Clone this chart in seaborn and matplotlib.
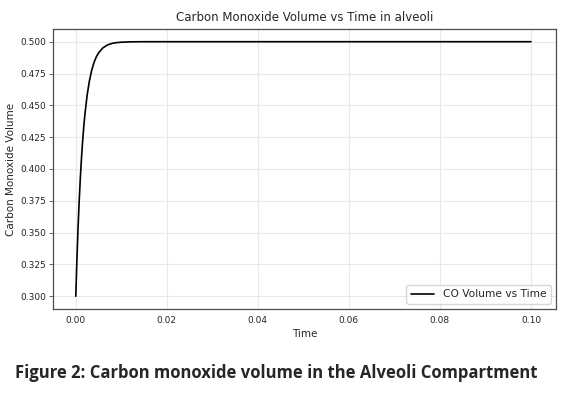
import matplotlib
matplotlib.use("Agg")
import matplotlib.pyplot as plt
import seaborn as sns
import pandas as pd

time = [0.0, 0.00025, 0.0005, 0.00075, 0.001, 0.00125, 0.0015, 0.00175, 0.002,
        0.0025, 0.003, 0.0035, 0.004, 0.0045, 0.005, 0.006, 0.007, 0.008, 0.009,
        0.010, 0.012, 0.015, 0.02, 0.03, 0.04, 0.05, 0.06, 0.07, 0.08, 0.09, 0.10]
co_volume = [0.300, 0.3289, 0.3537, 0.3748, 0.3929, 0.4084, 0.4217, 0.4330, 0.4427,
             0.4581, 0.4693, 0.4776, 0.4836, 0.4880, 0.4912, 0.4953, 0.4975, 0.4987, 0.4993,
             0.4996, 0.4999, 0.5, 0.5, 0.5, 0.5, 0.5, 0.5, 0.5, 0.5, 0.5, 0.5]
xticks = [0.00, 0.02, 0.04, 0.06, 0.08, 0.10]
yticks = [0.300, 0.325, 0.350, 0.375, 0.400, 0.425, 0.450, 0.475, 0.500]

df = pd.DataFrame({"Time": time, "CO": co_volume})

sns.set_style("whitegrid", {"axes.edgecolor": "0.3", "grid.color": "0.91",
                            "xtick.bottom": False, "ytick.left": True})
plt.rcParams["font.family"] = ["DejaVu Sans"]

fig = plt.figure(figsize=(5.64, 3.97), dpi=100)
ax = fig.add_axes([0.094, 0.2217, 0.8918, 0.7053])
sns.lineplot(data=df, x="Time", y="CO", ax=ax, color="black", linewidth=1.2,
             label="CO Volume vs Time")
ax.set_xticks(xticks)
ax.set_yticks(yticks)
ax.set_xticklabels([f"{v:.2f}" for v in xticks])
ax.set_yticklabels([f"{v:.3f}" for v in yticks])
ax.tick_params(axis="y", labelsize=6.5, length=3, width=0.6, color="0.3", pad=2)
ax.tick_params(axis="x", labelsize=6.5, length=0, pad=5)
ax.set_xlim(-0.005, 0.1055)
ax.set_ylim(0.290, 0.510)
ax.set_xlabel("Time", fontsize=7.5, labelpad=3)
ax.set_ylabel("Carbon Monoxide Volume", fontsize=7.5, labelpad=3)
ax.set_title("Carbon Monoxide Volume vs Time in alveoli", fontsize=8.5, pad=6)
for s in ax.spines.values():
    s.set_linewidth(0.9)
ax.legend(loc="lower right", fontsize=7.7, frameon=True, edgecolor="0.8",
          fancybox=True, handlelength=2.2)

fig.text(0.490, 0.06, "Figure 2: Carbon monoxide volume in the Alveoli Compartment",
         ha="center", va="center", fontsize=12.0, fontweight="bold",
         family=["Open Sans", "DejaVu Sans"])
fig.savefig("out.png", dpi=100)
